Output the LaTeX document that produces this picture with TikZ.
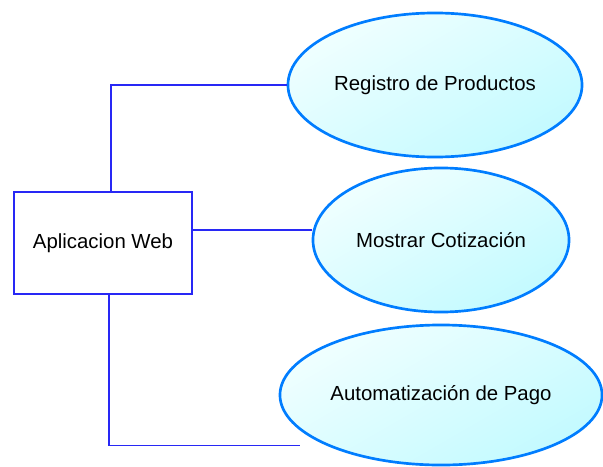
\documentclass[tikz,border=0pt]{standalone}
\usepackage{fontspec}
\setmainfont{Liberation Sans}
\usetikzlibrary{shapes.geometric}

\definecolor{boxblue}{RGB}{40,40,245}
\definecolor{ovalblue}{RGB}{0,125,255}
\definecolor{ovallight}{RGB}{240,255,255}
\definecolor{ovaldark}{RGB}{195,250,255}

\tikzset{
    usecase/.style={ellipse, draw=ovalblue, line width=1.9pt, inner sep=0pt,
        left color=ovallight, right color=ovaldark, shading angle=30,
        font=\fontsize{14.5}{17}\selectfont},
    sysbox/.style={rectangle, draw=boxblue, line width=1pt, inner sep=0pt,
        fill=white, minimum width=4.45cm, minimum height=2.55cm,
        font=\fontsize{14.5}{17}\selectfont},
    link/.style={draw=boxblue, line width=1pt}
}

\begin{document}
\begin{tikzpicture}[x=0.025cm, y=-0.025cm]
    \useasboundingbox (0,0) rectangle (603,466);
    \clip (0,0) rectangle (603,466);

    \node[sysbox] (app) at (103,243) {Aplicacion Web};

    \node[usecase, minimum width=7.35cm, minimum height=3.6cm] (reg) at (435,85) {Registro de Productos};
    \node[usecase, minimum width=6.4cm, minimum height=3.6cm] (cot) at (441,240) {Mostrar Cotizaci\'on};
    \node[usecase, minimum width=8.05cm, minimum height=3.5cm] (pago) at (441,395) {Automatizaci\'on de Pago};

    \coordinate (pagoend) at ([xshift=-0.65cm]pago.south west);

    \draw[link] ([xshift=0.2cm]app.north) |- (reg.west);
    \draw[link] ([yshift=0.33cm]app.east) -- ([yshift=0.33cm]app.east -| cot.west);
    \draw[link] ([xshift=0.15cm]app.south) |- (pagoend);
\end{tikzpicture}
\end{document}
